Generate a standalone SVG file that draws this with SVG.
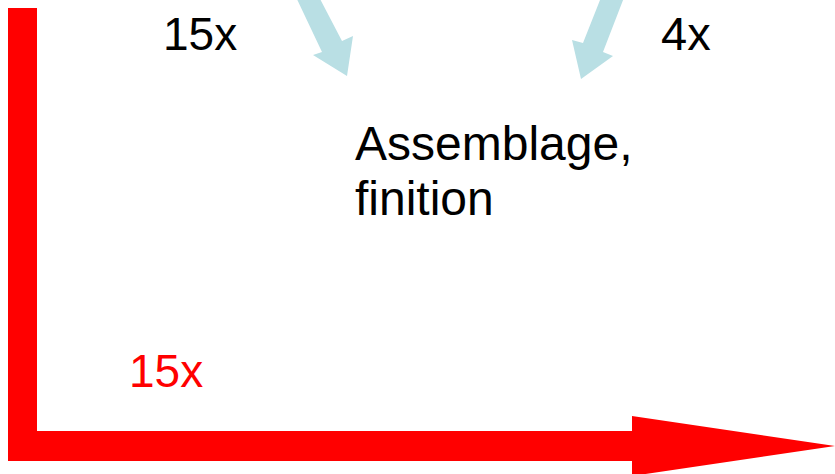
<svg xmlns="http://www.w3.org/2000/svg" width="835" height="474" viewBox="0 0 835 474">
<style>
text{font-family:"Liberation Sans",Arial,sans-serif;font-size:46px;fill:#000}
.big{font-size:48px}
.red{fill:#ff0000}
.flow{fill:#b9dfe4}
</style>
<rect width="835" height="474" fill="#fff"/>
<g id="connectors">
<polygon class="flow" points="295,-5 322,52 313,55 347,76 353,36 342,41 318,-5"/>
<polygon class="flow" points="602,-5 583,43 572,40 581,79 613,56 603,52 625,-5"/>
<polygon class="red" points="8,8 37,8 37,431 632,431 632,416 835,446 632,476 632,461 8,461"/>
</g>
<g id="label-15x"><text x="163" y="50">15x</text></g>
<g id="label-4x"><text x="661" y="49.5" style="font-size:47px">4x</text></g>
<g id="assemblage"><text class="big" x="355" y="160">Assemblage,</text><text class="big" x="355" y="215">finition</text></g>
<g id="label-15x-red"><text x="129" y="386.5" class="red">15x</text></g>
</svg>
